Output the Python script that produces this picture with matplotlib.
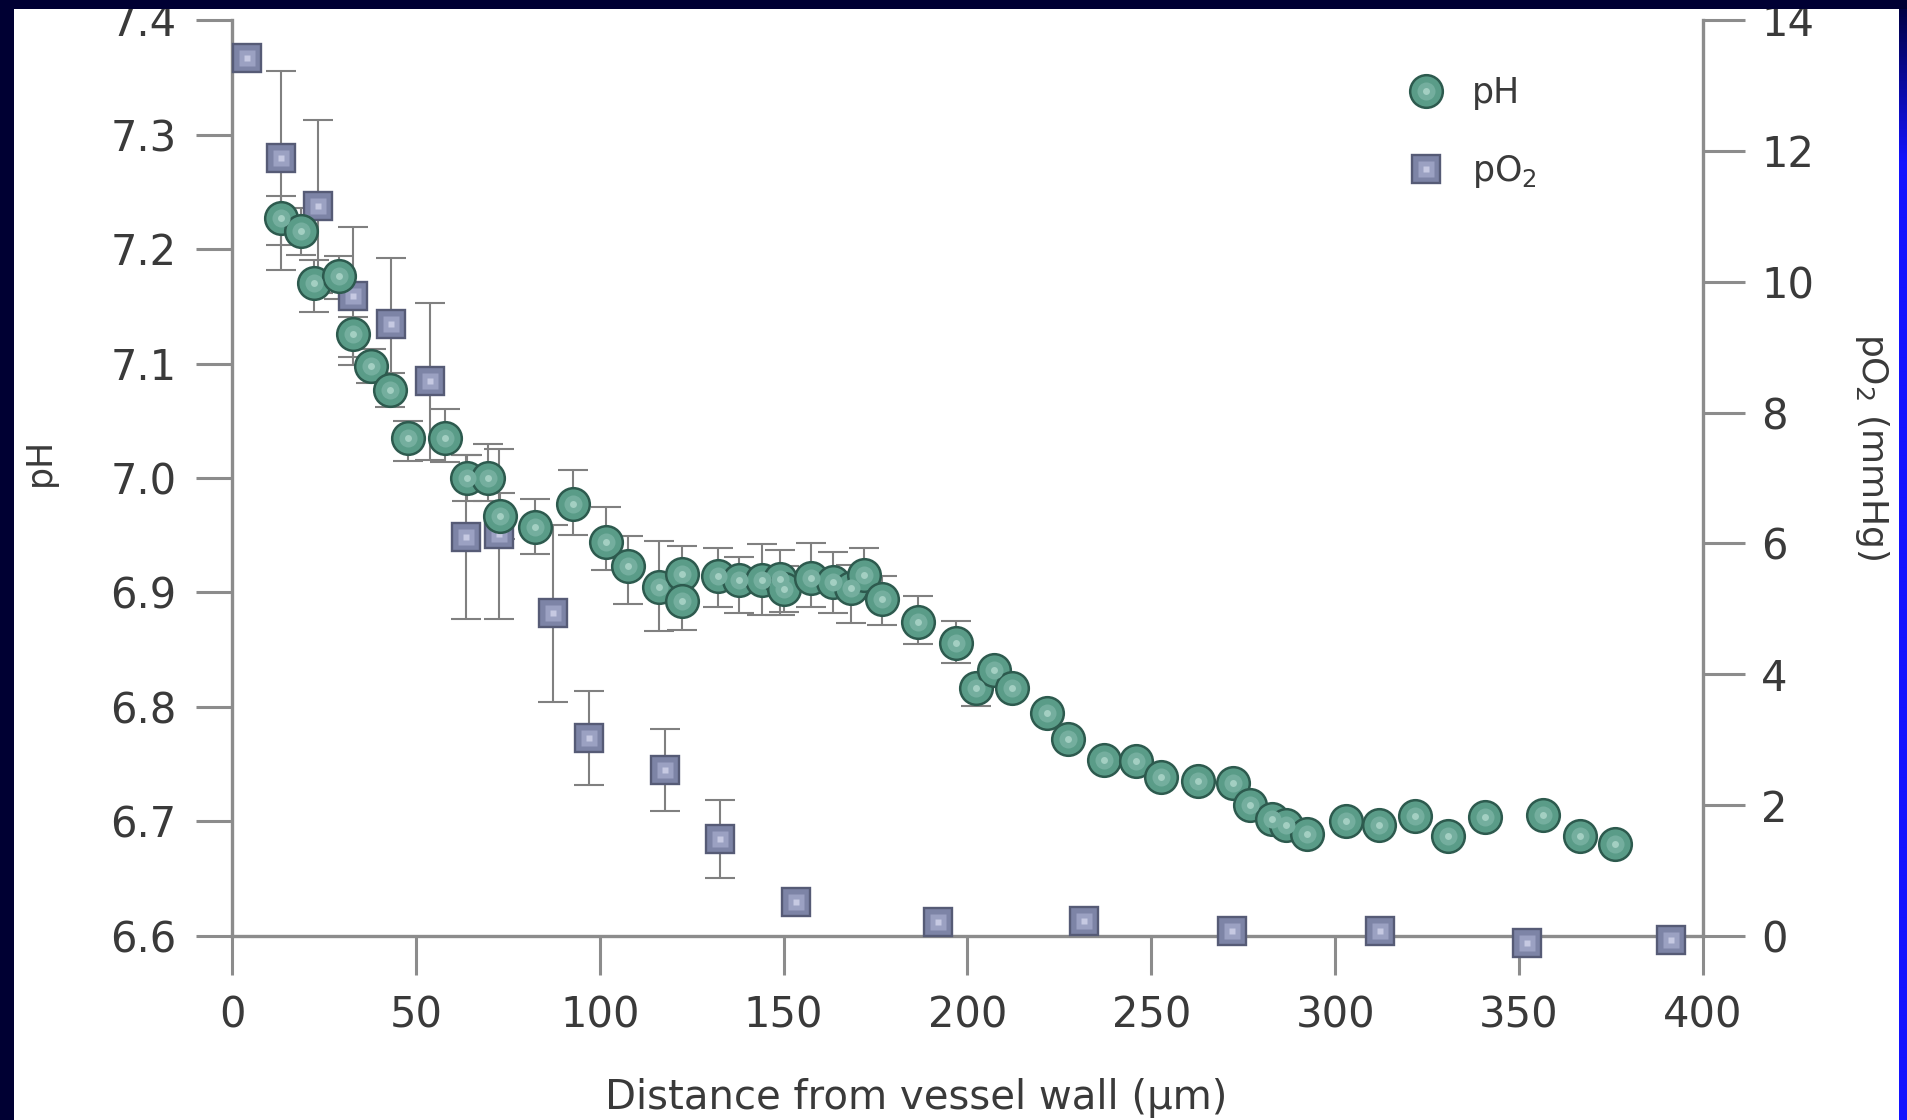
import numpy as np
import matplotlib
matplotlib.use("Agg")
import matplotlib.pyplot as plt
from matplotlib.lines import Line2D
from matplotlib.patches import Rectangle
from matplotlib.legend_handler import HandlerTuple

# ---- data -------------------------------------------------------------
# pH measured at increasing distance from the vessel wall (um)
ph_dist = [13.3, 18.7, 22.3, 29.1, 32.9, 37.8, 42.9, 47.8, 57.8, 64.0,
           69.5, 73.0, 82.5, 92.8, 101.8, 107.8, 116.0, 122.4, 122.4, 132.1,
           137.8, 144.1, 148.9, 150.2, 157.5, 163.5, 168.4, 171.9, 176.8, 186.6,
           196.9, 202.3, 207.3, 212.1, 221.6, 227.2, 237.1, 245.9, 252.7, 262.7,
           272.1, 276.7, 282.9, 286.7, 292.4, 302.8, 312.0, 321.7, 330.7, 340.8,
           356.6, 366.6, 376.1]
ph_val = [7.227, 7.216, 7.170, 7.176, 7.126, 7.098, 7.077, 7.035, 7.035, 7.000,
          7.000, 6.967, 6.957, 6.977, 6.944, 6.923, 6.905, 6.916, 6.893, 6.914,
          6.911, 6.911, 6.912, 6.903, 6.913, 6.909, 6.904, 6.915, 6.894, 6.874,
          6.856, 6.817, 6.832, 6.817, 6.795, 6.772, 6.754, 6.753, 6.739, 6.735,
          6.734, 6.714, 6.702, 6.697, 6.689, 6.700, 6.697, 6.705, 6.687, 6.704,
          6.706, 6.687, 6.680]
ph_err_lo = [0.045, 0.021, 0.025, 0.020, 0.020, 0.015, 0.015, 0.020, 0.021, 0.020,
             0.020, 0.020, 0.023, 0.027, 0.024, 0.033, 0.039, 0.020, 0.026, 0.027,
             0.029, 0.031, 0.032, 0.020, 0.026, 0.027, 0.031, 0.020, 0.022, 0.019,
             0.018, 0.016] + [0.0] * 21
ph_err_hi = [0.019, 0.020, 0.020, 0.018, 0.015, 0.015, 0.015, 0.015, 0.025, 0.020,
             0.030, 0.020, 0.025, 0.030, 0.031, 0.026, 0.040, 0.025, 0.020, 0.025,
             0.020, 0.031, 0.025, 0.020, 0.030, 0.026, 0.020, 0.024, 0.020, 0.023,
             0.019, 0.0] + [0.0] * 21

# oxygen partial pressure (mmHg)
po2_dist = [4.1, 13.3, 23.3, 32.9, 43.1, 53.8, 63.5, 72.7, 87.4, 97.2,
            117.8, 132.8, 153.5, 191.9, 231.7, 271.9, 312.3, 352.2, 391.3]
po2_val = [13.42, 11.89, 11.15, 9.78, 9.36, 8.48, 6.10, 6.15, 4.93, 3.03,
           2.54, 1.48, 0.52, 0.21, 0.23, 0.07, 0.07, -0.10, -0.06]
po2_err = [0, 1.33, 1.32, 1.05, 1.01, 1.20, 1.25, 1.30, 1.35, 0.72,
           0.63, 0.60, 0, 0, 0, 0, 0, 0, 0]

x_ticks = [0, 50, 100, 150, 200, 250, 300, 350, 400]
ph_ticks = [6.6, 6.7, 6.8, 6.9, 7.0, 7.1, 7.2, 7.3, 7.4]
po2_ticks = [0, 2, 4, 6, 8, 10, 12, 14]

# ---- style ------------------------------------------------------------
plt.rcParams['font.family'] = ['DejaVu Sans']
plt.rcParams['mathtext.fontset'] = 'dejavusans'

W, H = 1907, 1120
NAVY = '#000033'
AXIS = '#8c8c8c'
TEXT = '#3a3a3a'
ERR = '#808080'

C_EDGE, C_FACE, C_MID, C_HI = '#2d5a4e', '#5a9c88', '#74ae9e', '#a3cfc2'
S_EDGE, S_FACE, S_MID, S_HI = '#565b76', '#7d84a6', '#9ba1c2', '#c6c9e2'
C_MS, S_MS = 23.5, 20.5

fig = plt.figure(figsize=(W / 100, H / 100), dpi=100, facecolor=NAVY)

# white slide panel
fig.patches.append(Rectangle((14 / W, 0), (1899 - 14) / W, (H - 9) / H,
                             transform=fig.transFigure, facecolor='white',
                             edgecolor='none', zorder=-5))

ax = fig.add_axes([232 / W, (H - 936) / H, (1703 - 232) / W, (936 - 20) / H])
ax.set_facecolor('none')
ax2 = ax.twinx()

# pH error bars (bottom layer)
ph_d = np.array(ph_dist)
ph_v = np.array(ph_val)
lo = np.array(ph_err_lo)
hi = np.array(ph_err_hi)
m = (lo + hi) > 0
ax.errorbar(ph_d[m], ph_v[m], yerr=[lo[m], hi[m]], fmt='none', ecolor=ERR,
            elinewidth=1.5, capsize=11, capthick=1.5, zorder=2, clip_on=False)

# pO2 error bars and squares
po_d = np.array(po2_dist)
po_v = np.array(po2_val)
pe = np.array(po2_err)
mp = pe > 0
ax2.errorbar(po_d[mp], po_v[mp], yerr=pe[mp], fmt='none', ecolor=ERR,
             elinewidth=1.5, capsize=11, capthick=1.5, zorder=2, clip_on=False)
ax2.plot(po_d, po_v, 's', ms=S_MS, mfc=S_FACE, mec=S_EDGE, mew=1.7,
         zorder=3, clip_on=False)
ax2.plot(po_d, po_v, 's', ms=12, mfc=S_MID, mec='none', zorder=3.1, clip_on=False)
ax2.plot(po_d, po_v, 's', ms=5, mfc=S_HI, mec='none', zorder=3.2, clip_on=False)

# pH circles drawn above the squares
ax2.plot(ph_d, ph_v, 'o', ms=C_MS, mfc=C_FACE, mec=C_EDGE, mew=1.8,
         zorder=4, clip_on=False, transform=ax.transData)
ax2.plot(ph_d, ph_v, 'o', ms=13, mfc=C_MID, mec='none', zorder=4.1,
         clip_on=False, transform=ax.transData)
ax2.plot(ph_d, ph_v, 'o', ms=5, mfc=C_HI, mec='none', zorder=4.2,
         clip_on=False, transform=ax.transData)

# ---- axes -------------------------------------------------------------
ax.set_xlim(0, 400)
ax.set_ylim(6.6, 7.4)
ax2.set_ylim(0, 14)

ax.set_xticks(x_ticks)
ax.set_yticks(ph_ticks)
ax.set_yticklabels([f'{t:.1f}' for t in ph_ticks])
ax2.set_yticks(po2_ticks)

for s in ['top', 'right']:
    ax.spines[s].set_visible(False)
for s in ['top', 'left', 'bottom']:
    ax2.spines[s].set_visible(False)
for sp in [ax.spines['left'], ax.spines['bottom'], ax2.spines['right']]:
    sp.set_color(AXIS)
    sp.set_linewidth(2.4)

ax.tick_params(axis='y', direction='out', length=26, width=2.2, color=AXIS,
               pad=14, labelsize=30, labelcolor=TEXT)
ax.tick_params(axis='x', direction='out', length=28, width=2.2, color=AXIS,
               pad=14, labelsize=30, labelcolor=TEXT)
ax2.tick_params(axis='y', direction='out', length=30, width=2.2, color=AXIS,
                pad=12, labelsize=30, labelcolor=TEXT)

fig.text(40 / W, 1 - 462 / H, 'pH', rotation=90, ha='center', va='center',
         fontsize=25, color=TEXT)
fig.text(1872 / W, 1 - 447 / H, 'pO$_2$ (mmHg)', rotation=270, ha='center',
         va='center', fontsize=26, color=TEXT)
fig.text(916 / W, 11 / H, 'Distance from vessel wall (μm)', ha='center',
         va='baseline', fontsize=29, color=TEXT)

# legend
h_ph = (Line2D([], [], ls='none', marker='o', ms=C_MS, mfc=C_FACE, mec=C_EDGE, mew=1.8),
        Line2D([], [], ls='none', marker='o', ms=13, mfc=C_MID, mec='none'),
        Line2D([], [], ls='none', marker='o', ms=5, mfc=C_HI, mec='none'))
h_po = (Line2D([], [], ls='none', marker='s', ms=S_MS, mfc=S_FACE, mec=S_EDGE, mew=1.7),
        Line2D([], [], ls='none', marker='s', ms=12, mfc=S_MID, mec='none'),
        Line2D([], [], ls='none', marker='s', ms=5, mfc=S_HI, mec='none'))
leg = ax2.legend([h_ph, h_po], ['pH', 'pO$_2$'],
                 handler_map={tuple: HandlerTuple(ndivide=1, pad=0)},
                 loc='upper left', bbox_to_anchor=(1409 / W, 1 - 76 / H),
                 bbox_transform=fig.transFigure, frameon=False, fontsize=25,
                 handlelength=1.0, handletextpad=0.8, labelspacing=1.25,
                 borderpad=0, borderaxespad=0)
for t in leg.get_texts():
    t.set_color(TEXT)

# slide edge on the right, shading from navy into bright blue
strip = fig.add_axes([1899 / W, 0, (W - 1899) / W, 1], zorder=20)
grad = np.clip(np.linspace(0, H, 400) / 160.0, 0, 1)[:, None]
top = np.array([0x00, 0x00, 0x3a]) / 255
bot = np.array([0x14, 0x14, 0xff]) / 255
img = top[None, None, :] * (1 - grad[:, :, None]) + bot[None, None, :] * grad[:, :, None]
strip.imshow(img, aspect='auto', extent=[0, 1, 0, 1], origin='upper')
strip.set_axis_off()

# top edge
fig.patches.append(Rectangle((0, 1 - 9 / H), 1, 9 / H, transform=fig.transFigure,
                             facecolor=NAVY, edgecolor='none', zorder=30))

fig.savefig('out.png', dpi=100, facecolor=NAVY)
